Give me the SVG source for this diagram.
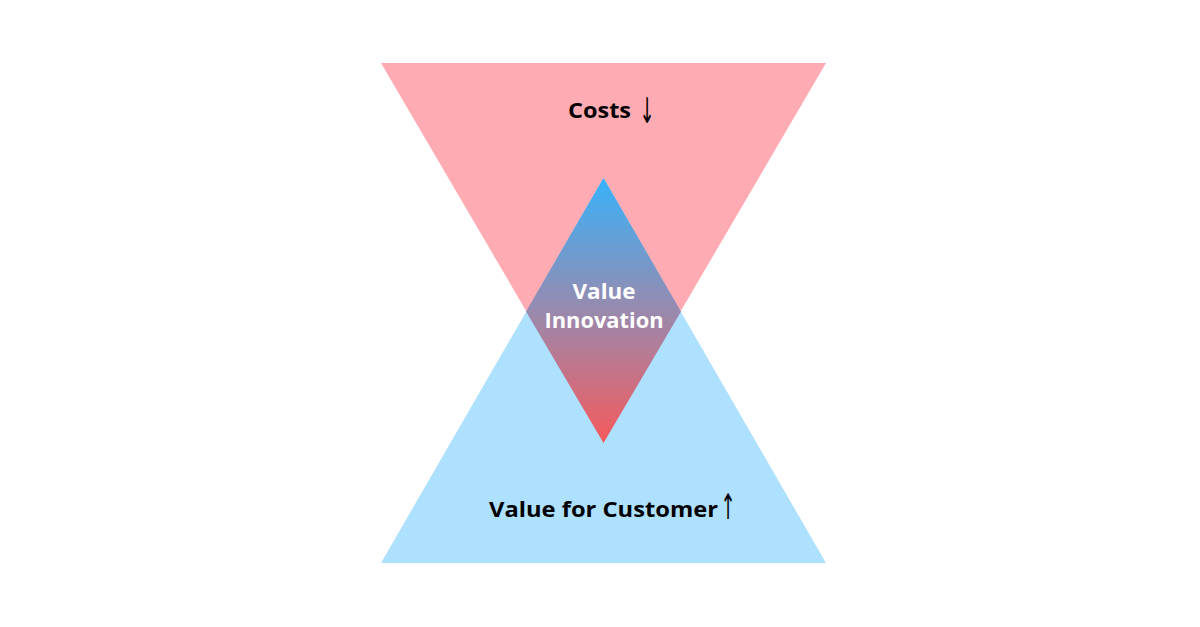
<svg xmlns="http://www.w3.org/2000/svg" width="1200" height="627" viewBox="0 0 1200 627">
<defs>
<linearGradient id="vi" x1="0" y1="178" x2="0" y2="443" gradientUnits="userSpaceOnUse">
<stop offset="0" stop-color="#38B2FA"/>
<stop offset="0.5" stop-color="#988AAE"/>
<stop offset="1" stop-color="#F65A5C"/>
</linearGradient>
</defs>
<style>
.lbl{font-family:"Open Sans","Liberation Sans",sans-serif;font-weight:700;font-size:22px;fill:#000;text-anchor:start}
.arr{font-family:"DejaVu Sans","Liberation Sans",sans-serif;font-weight:400;font-size:26px;fill:#000;text-anchor:middle}
.wl{font-family:"Open Sans","Liberation Sans",sans-serif;font-weight:700;font-size:21px;fill:#fff;text-anchor:middle}
</style>
<rect width="1200" height="627" fill="#fff"/>
<g id="costs">
<polygon points="381,63 826,63 603.5,443" fill="#FFABB3"/>
<text class="lbl" x="568" y="118" textLength="63" lengthAdjust="spacingAndGlyphs">Costs</text>
<text class="arr" transform="translate(647,123) scale(0.7,1.35)">↓</text>
</g>
<g id="value-customer">
<polygon points="381,563 826,563 603.5,178" fill="#AEE0FF"/>
<text class="lbl" x="489" y="517" textLength="229" lengthAdjust="spacingAndGlyphs">Value for Customer</text>
<text class="arr" transform="translate(728,519) scale(0.7,1.35)">↑</text>
</g>
<g id="value-innovation">
<polygon points="603.5,178 681,311.4 603.5,443 526,311.4" fill="url(#vi)"/>
<text class="wl" x="604" y="299" textLength="63" lengthAdjust="spacingAndGlyphs">Value</text>
<text class="wl" x="604" y="328" textLength="119" lengthAdjust="spacingAndGlyphs">Innovation</text>
</g>
<g id="connectors"/>
</svg>
